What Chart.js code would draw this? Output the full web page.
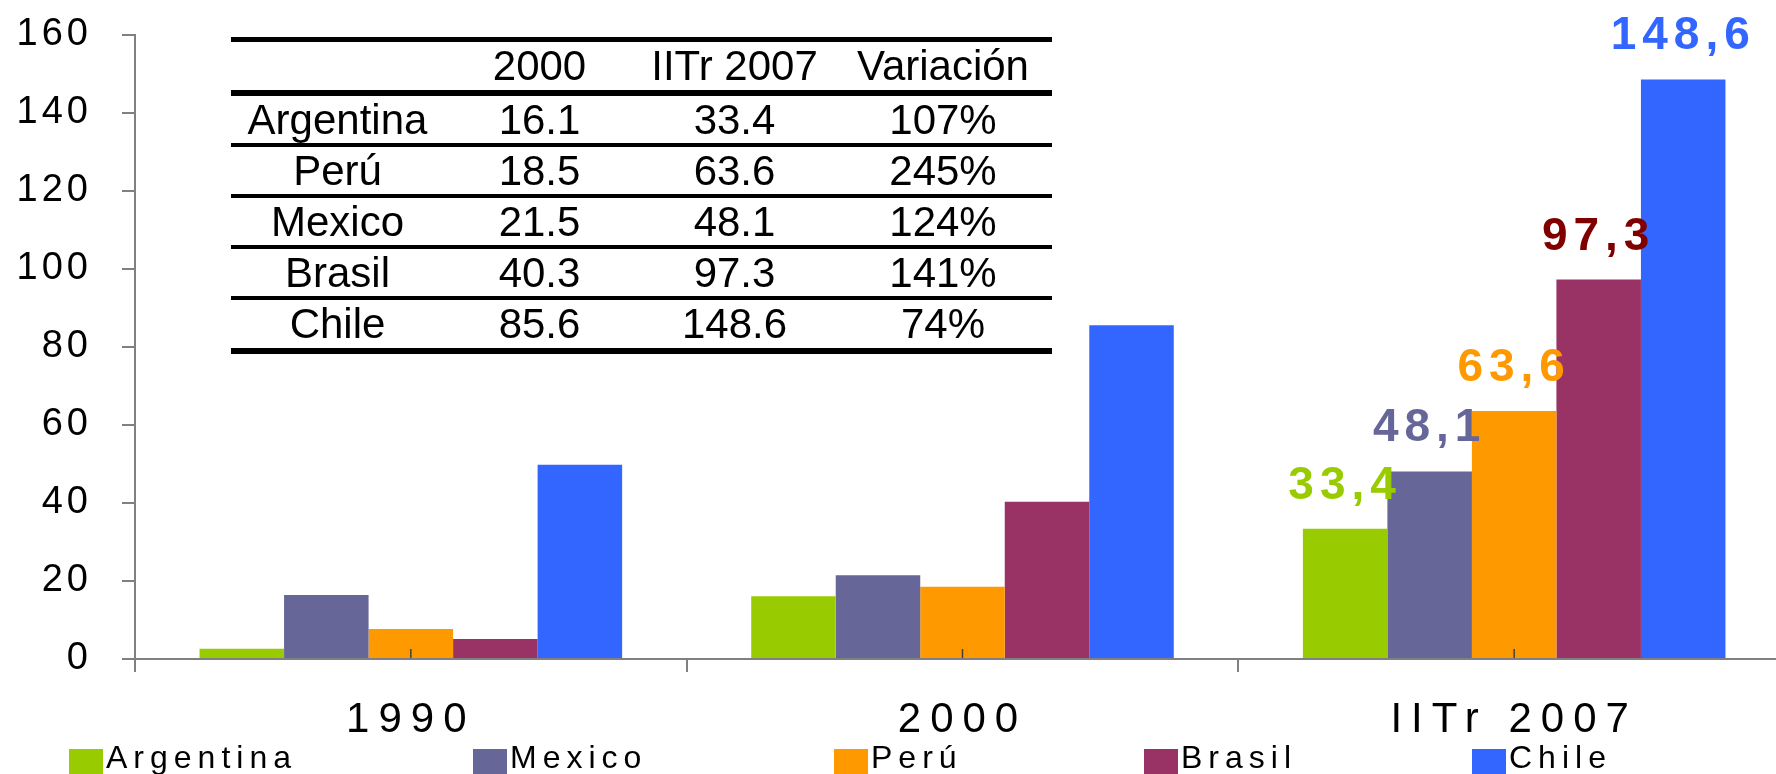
<!DOCTYPE html>
<html>
<head>
<meta charset="utf-8">
<script src="https://cdn.jsdelivr.net/npm/chart.js@4.4.1/dist/chart.umd.min.js"></script>
<style>
  html, body { margin: 0; padding: 0; background: #fff; overflow: hidden; width: 1776px; height: 774px; }
  #wrap { position: relative; width: 1776px; height: 774px; overflow: hidden; font-family: "Liberation Sans", Arial, sans-serif; }
  canvas { position: absolute; left: 0; top: 0; }
  #table { position: absolute; left: 231px; top: 37px; width: 821px; border-top: 5px solid #000; font-size: 42px; color: #000; }
  #table .row { display: grid; grid-template-columns: 213px 191px 199px 218px; text-align: center; border-bottom: 4px solid #000; }
  #legend { position: absolute; left: 69px; top: 741px; display: flex; font-size: 32px; line-height: 32px; letter-spacing: 6px; white-space: nowrap; }
  #legend .item { display: flex; align-items: flex-start; }
  #legend .item:nth-child(1) { width: 404px; }
  #legend .item:nth-child(2) { width: 361px; }
  #legend .item:nth-child(3) { width: 310px; }
  #legend .item:nth-child(4) { width: 328px; }
  #legend .box { width: 34px; height: 26px; margin-top: 8px; margin-right: 3px; }
</style>
</head>
<body>
<div id="wrap">
  <canvas id="chart" width="1790" height="774"></canvas>
  <div id="table"></div>
  <div id="legend"></div>
</div>
<script>
// chart data
const categories = ["1990", "2000", "IITr 2007"];
const seriesNames = ["Argentina", "Mexico", "Perú", "Brasil", "Chile"];
const argentina = [2.6, 16.1, 33.4];
const mexico = [16.4, 21.5, 48.1];
const peru = [7.7, 18.5, 63.6];
const brasil = [5.1, 40.3, 97.3];
const chile = [49.8, 85.6, 148.6];
const barColors = ["#99CC00", "#666699", "#FF9900", "#993366", "#3366FF"];
const labelColors = ["#99CC00", "#666699", "#FF9900", "#800000", "#3366FF"];
const yTicks = [0, 20, 40, 60, 80, 100, 120, 140, 160];

// inset table
const tableHeader = ["", "2000", "IITr 2007", "Variación"];
const tableCountries = ["Argentina", "Perú", "Mexico", "Brasil", "Chile"];
const table2000 = ["16.1", "18.5", "21.5", "40.3", "85.6"];
const table2007 = ["33.4", "63.6", "48.1", "97.3", "148.6"];
const tableVariation = ["107%", "245%", "124%", "141%", "74%"];

const seriesValues = [argentina, mexico, peru, brasil, chile];

// build table
const tableEl = document.getElementById("table");
const rows = [tableHeader].concat(tableCountries.map((c, i) => [c, table2000[i], table2007[i], tableVariation[i]]));
rows.forEach((r, i) => {
  const row = document.createElement("div");
  row.className = "row";
  const h = (i === 0 || i === rows.length - 1) ? 48 : 47;
  row.style.height = h + "px";
  row.style.lineHeight = h + "px";
  if (i === 0) row.style.borderBottomWidth = "6px";
  if (i === rows.length - 1) row.style.borderBottomWidth = "6px";
  r.forEach(t => {
    const cell = document.createElement("div");
    cell.textContent = t;
    row.appendChild(cell);
  });
  tableEl.appendChild(row);
});

// build legend
const legendEl = document.getElementById("legend");
seriesNames.forEach((name, i) => {
  const item = document.createElement("div");
  item.className = "item";
  const box = document.createElement("span");
  box.className = "box";
  box.style.background = barColors[i];
  const txt = document.createElement("span");
  txt.textContent = name;
  item.appendChild(box);
  item.appendChild(txt);
  legendEl.appendChild(item);
});

// tick label letter spacing per axis
const tickSpacing = { x: "9px", y: "4px" };
const spacingPlugin = {
  id: "spacing",
  afterLayout(chart) {
    Object.values(chart.scales).forEach(scale => {
      if (scale._spaced) return;
      const orig = scale.drawLabels;
      scale.drawLabels = function (area) {
        this.ctx.save();
        this.ctx.letterSpacing = tickSpacing[this.id];
        orig.call(this, area);
        this.ctx.restore();
      };
      scale._spaced = true;
    });
  }
};

// small ticks at category centres and value labels on the last group
const extrasPlugin = {
  id: "extras",
  afterDatasetsDraw(chart) {
    const ctx = chart.ctx;
    const xs = chart.scales.x;
    ctx.save();
    ctx.strokeStyle = "#404040";
    ctx.lineWidth = 1.5;
    categories.forEach((c, i) => {
      const px = xs.getPixelForValue(i);
      ctx.beginPath();
      ctx.moveTo(px, xs.top);
      ctx.lineTo(px, xs.top - 10);
      ctx.stroke();
    });
    ctx.font = "bold 46px 'Liberation Sans', Arial, sans-serif";
    ctx.letterSpacing = "6px";
    ctx.textAlign = "center";
    ctx.textBaseline = "alphabetic";
    const last = categories.length - 1;
    chart.data.datasets.forEach((ds, i) => {
      const bar = chart.getDatasetMeta(i).data[last];
      ctx.fillStyle = labelColors[i];
      ctx.fillText(String(ds.data[last]).replace(".", ","), bar.x, bar.y - 30);
    });
    ctx.restore();
  }
};

const axisGray = "#808080";

new Chart(document.getElementById("chart"), {
  type: "bar",
  data: {
    labels: categories,
    datasets: seriesNames.map((name, i) => ({
      label: name,
      data: seriesValues[i],
      backgroundColor: barColors[i],
      borderWidth: 0,
      barPercentage: 1,
      categoryPercentage: 0.766
    }))
  },
  options: {
    responsive: false,
    animation: false,
    layout: { padding: { left: 0, right: 0, top: 35, bottom: 25 } },
    plugins: { legend: { display: false }, tooltip: { enabled: false } },
    scales: {
      x: {
        afterFit: (scale) => {
          scale.height = 90;
          scale.paddingLeft = 0;
          scale.paddingRight = 0;
        },
        border: { color: axisGray, width: 2, z: 1 },
        grid: { drawOnChartArea: false, color: axisGray, lineWidth: 2, tickLength: 13 },
        ticks: {
          color: "#000",
          padding: 23,
          font: { family: "'Liberation Sans', Arial, sans-serif", size: 42 }
        }
      },
      y: {
        min: 0,
        max: 160,
        afterFit: (scale) => {
          scale.width = 135;
          scale.paddingTop = 0;
          scale.paddingBottom = 0;
        },
        afterBuildTicks: (scale) => { scale.ticks = yTicks.map(v => ({ value: v })); },
        border: { color: axisGray, width: 2 },
        grid: { drawOnChartArea: false, color: axisGray, lineWidth: 2, tickLength: 13 },
        ticks: {
          color: "#000",
          padding: 30,
          font: { family: "'Liberation Sans', Arial, sans-serif", size: 38 }
        }
      }
    }
  },
  plugins: [spacingPlugin, extrasPlugin]
});
</script>
</body>
</html>
